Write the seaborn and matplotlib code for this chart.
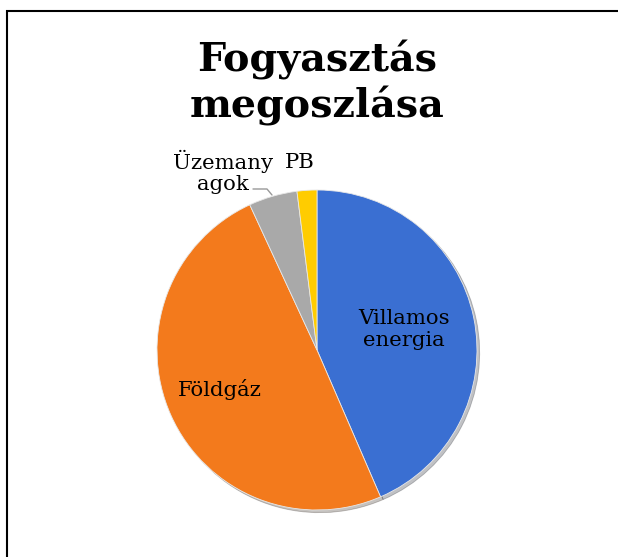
import matplotlib
matplotlib.use("Agg")
import matplotlib.pyplot as plt
import seaborn as sns
from matplotlib.patches import Rectangle

categories = ["Villamos energia", "Földgáz", "Üzemanyagok", "PB"]
label_texts = ["Villamos\nenergia", "Földgáz", "Üzemany\nagok", "PB"]
values = [43.5, 49.6, 4.9, 2.0]
colors = ["#3A6FD2", "#F37A1C", "#A9A9A9", "#FFCC00"]

sns.set_theme(style="white")
plt.rcParams['font.family'] = ['DejaVu Serif']

fig = plt.figure(figsize=(6.18, 5.57), dpi=100)
fig.patch.set_facecolor("white")

# frame (top and left visible)
fig.patches.append(Rectangle((7/618, -0.1), 1.2, (557-11)/557 + 0.1,
                             transform=fig.transFigure, fill=False,
                             edgecolor="black", linewidth=1.5))

ax = fig.add_axes([157/618, 47/557, 320/618, 320/557])
wedges, _ = ax.pie(values, colors=colors, startangle=90, counterclock=False,
                   radius=1.0,
                   wedgeprops=dict(edgecolor="#e8e8e8", linewidth=0.6),
                   shadow=dict(ox=0.012, oy=-0.012, alpha=0.25, shade=0.9))
ax.set_xlim(-1, 1)
ax.set_ylim(-1, 1)
ax.set_aspect("equal")
ax.axis("off")

fs = 15.3
ax.text(0.544, 0.125, label_texts[0], ha="center", va="center", fontsize=fs,
        color="black", linespacing=1.2)
ax.text(-0.606, -0.25, label_texts[1], ha="center", va="center", fontsize=fs,
        color="black")
ax.text(-0.589, 1.112, label_texts[2], ha="center", va="center", fontsize=fs,
        color="black", linespacing=1.15)
ax.text(-0.106, 1.17, label_texts[3], ha="center", va="center", fontsize=fs,
        color="black")
# leader line for Üzemanyagok
lx = [(253-317)/160, (267-317)/160, (272-317)/160]
ly = [(350-189)/160, (350-189)/160, (350-195)/160]
ax.plot(lx, ly, color="#999999", linewidth=1.0, clip_on=False)

fig.text(317/618, 1 - 60/557, "Fogyasztás", ha="center", va="center",
         fontsize=28.5, fontweight="bold", color="black")
fig.text(317/618, 1 - 106/557, "megoszlása", ha="center", va="center",
         fontsize=28.5, fontweight="bold", color="black")

fig.savefig("out.png", dpi=100, facecolor="white")
